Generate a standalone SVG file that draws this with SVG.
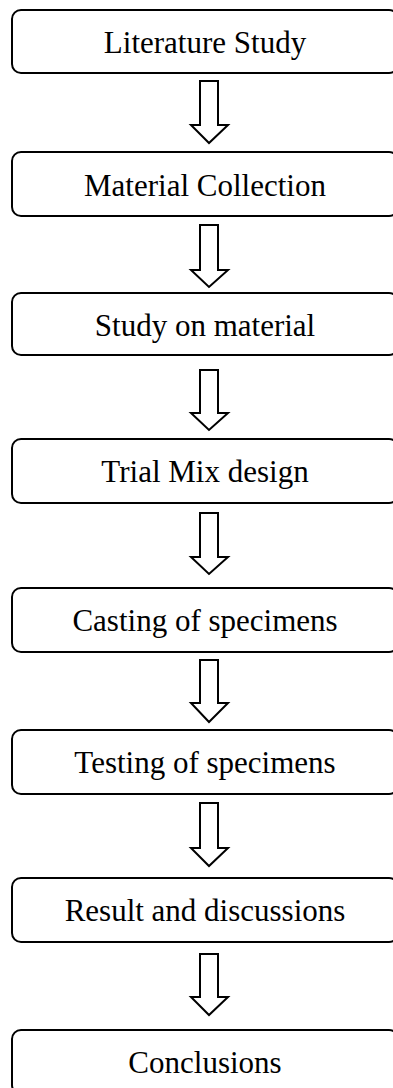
<svg xmlns="http://www.w3.org/2000/svg" width="393" height="1088" viewBox="0 0 393 1088">
<style>
.box{fill:#fff;stroke:#000;stroke-width:2}
.lbl{font-family:"Liberation Serif","Times New Roman",serif;font-size:31px;fill:#000;text-anchor:middle}
.arr{fill:#fff;stroke:#000;stroke-width:2;stroke-linejoin:miter}
</style>
<rect width="393" height="1088" fill="#fff"/>
<g id="connectors">
<path class="arr" d="M200,81 H218 V125 H228 L209,143 L191,125 H200 Z"/>
<path class="arr" d="M200,225 H218 V270 H228 L209,287 L191,270 H200 Z"/>
<path class="arr" d="M200,370 H218 V413 H228 L209,430 L191,413 H200 Z"/>
<path class="arr" d="M200,513 H218 V557 H228 L209,574 L191,557 H200 Z"/>
<path class="arr" d="M200,660 H218 V703 H228 L209,722 L191,703 H200 Z"/>
<path class="arr" d="M200,803 H218 V848 H228 L209,866 L191,848 H200 Z"/>
<path class="arr" d="M200,954 H218 V997 H228 L209,1015 L191,997 H200 Z"/>
</g>
<g id="n1"><rect class="box" x="12" y="10" width="386" height="63" rx="9"/><text class="lbl" x="205" y="53">Literature Study</text></g>
<g id="n2"><rect class="box" x="12" y="152" width="386" height="64" rx="9"/><text class="lbl" x="205" y="196">Material Collection</text></g>
<g id="n3"><rect class="box" x="12" y="293" width="386" height="62" rx="9"/><text class="lbl" x="205" y="336">Study on material</text></g>
<g id="n4"><rect class="box" x="12" y="439" width="386" height="64" rx="9"/><text class="lbl" x="205" y="482">Trial Mix design</text></g>
<g id="n5"><rect class="box" x="12" y="588" width="386" height="64" rx="9"/><text class="lbl" x="205" y="631">Casting of specimens</text></g>
<g id="n6"><rect class="box" x="12" y="730" width="386" height="64" rx="9"/><text class="lbl" x="205" y="773">Testing of specimens</text></g>
<g id="n7"><rect class="box" x="12" y="878" width="386" height="64" rx="9"/><text class="lbl" x="205" y="921">Result and discussions</text></g>
<g id="n8"><rect class="box" x="12" y="1030" width="386" height="64" rx="9"/><text class="lbl" x="205" y="1073">Conclusions</text></g>
</svg>
